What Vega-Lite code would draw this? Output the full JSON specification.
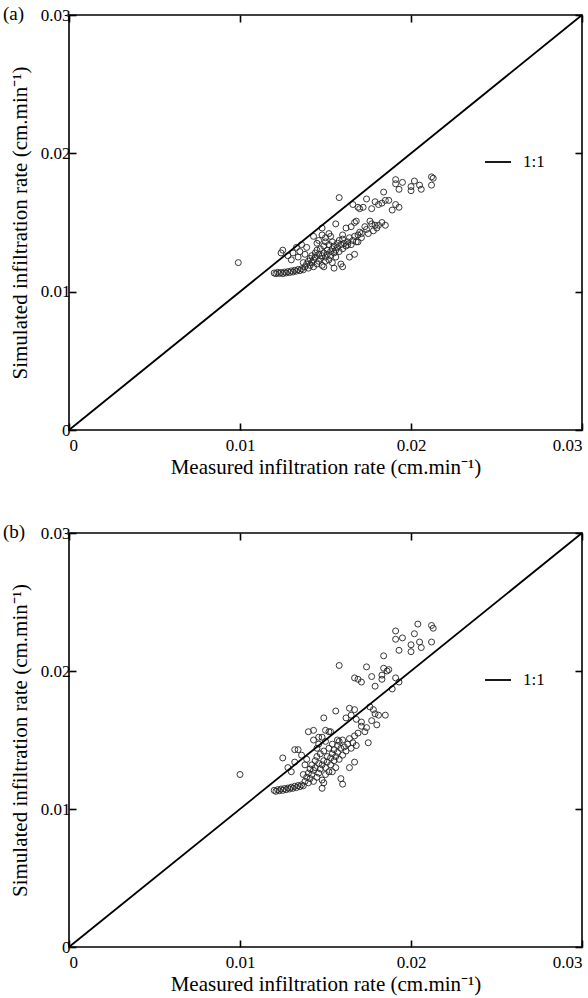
{
  "$schema": "https://vega.github.io/schema/vega-lite/v6.json",
  "background": "white",
  "padding": {"left": 2, "top": 4, "right": 6, "bottom": 5},
  "config": {
    "font": "Liberation Serif",
    "view": {"stroke": "black", "strokeWidth": 1.6},
    "axis": {"grid": false, "domain": false, "tickColor": "black", "tickSize": -7, "tickWidth": 1.6, "labelFont": "Liberation Serif", "labelFontSize": 17, "labelColor": "black", "titleFont": "Liberation Serif", "titleFontSize": 21, "titleFontWeight": "normal", "titleColor": "black"},
    "legend": {"labelFont": "Liberation Serif", "labelFontSize": 17, "labelColor": "black"}
  },
  "datasets": {
    "diag": [{"m": 0, "s": 0, "k": "1:1"}, {"m": 0.03, "s": 0.03, "k": "1:1"}],
    "a": [
      {"m":0.0099,"s":0.0121},
      {"m":0.0120,"s":0.01135},{"m":0.0121,"s":0.01130},{"m":0.0122,"s":0.01140},{"m":0.0123,"s":0.01132},{"m":0.0124,"s":0.01138},{"m":0.0125,"s":0.01130},{"m":0.0126,"s":0.01142},{"m":0.0127,"s":0.01135},{"m":0.0128,"s":0.01145},{"m":0.0129,"s":0.01138},{"m":0.0130,"s":0.01150},{"m":0.0131,"s":0.01142},{"m":0.0132,"s":0.01155},{"m":0.0133,"s":0.01148},{"m":0.0134,"s":0.01160},{"m":0.0135,"s":0.01152},{"m":0.0136,"s":0.01165},{"m":0.0137,"s":0.01158},
      {"m":0.0124,"s":0.0128},{"m":0.0125,"s":0.0130},{"m":0.0128,"s":0.0126},{"m":0.0130,"s":0.0123},{"m":0.0131,"s":0.0128},{"m":0.0133,"s":0.0132},{"m":0.0134,"s":0.0125},{"m":0.0135,"s":0.0129},{"m":0.0136,"s":0.0134},{"m":0.0137,"s":0.0121},{"m":0.0138,"s":0.0127},{"m":0.0139,"s":0.0132},
      {"m":0.0138,"s":0.0118},{"m":0.0139,"s":0.0120},{"m":0.0140,"s":0.0117},{"m":0.0140,"s":0.0122},{"m":0.0141,"s":0.0124},{"m":0.0141,"s":0.0119},{"m":0.0142,"s":0.0126},{"m":0.0142,"s":0.0121},{"m":0.0143,"s":0.0118},{"m":0.0143,"s":0.0123},{"m":0.0144,"s":0.0128},{"m":0.0144,"s":0.0125},{"m":0.0145,"s":0.0120},{"m":0.0145,"s":0.0130},{"m":0.0146,"s":0.0122},{"m":0.0146,"s":0.0127},{"m":0.0147,"s":0.0124},{"m":0.0147,"s":0.0131},{"m":0.0148,"s":0.0126},{"m":0.0148,"s":0.0119},{"m":0.0149,"s":0.0128},{"m":0.0149,"s":0.0133},{"m":0.0150,"s":0.0125},{"m":0.0150,"s":0.0122},{"m":0.0151,"s":0.0130},{"m":0.0151,"s":0.0127},{"m":0.0152,"s":0.0134},{"m":0.0152,"s":0.0123},{"m":0.0153,"s":0.0129},{"m":0.0153,"s":0.0126},{"m":0.0154,"s":0.0131},{"m":0.0154,"s":0.0136},{"m":0.0155,"s":0.0128},{"m":0.0155,"s":0.0133},{"m":0.0156,"s":0.0130},{"m":0.0156,"s":0.0125},{"m":0.0157,"s":0.0135},{"m":0.0157,"s":0.0132},{"m":0.0158,"s":0.0137},{"m":0.0158,"s":0.0129},{"m":0.0159,"s":0.0134},{"m":0.0160,"s":0.0131},{"m":0.0160,"s":0.0138},{"m":0.0161,"s":0.0135},{"m":0.0162,"s":0.0133},{"m":0.0163,"s":0.0136},{"m":0.0164,"s":0.0139},{"m":0.0165,"s":0.0134},{"m":0.0166,"s":0.0137},{"m":0.0167,"s":0.0140},{"m":0.0168,"s":0.0136},{"m":0.0169,"s":0.0141},
      {"m":0.0143,"s":0.0140},{"m":0.0148,"s":0.0141},{"m":0.0146,"s":0.0137},{"m":0.0150,"s":0.0139},{"m":0.0152,"s":0.0142},{"m":0.0145,"s":0.0135},
      {"m":0.0149,"s":0.0118},{"m":0.0154,"s":0.0121},{"m":0.0159,"s":0.0120},{"m":0.0164,"s":0.0125},{"m":0.0167,"s":0.0127},{"m":0.0160,"s":0.0118},{"m":0.0155,"s":0.0117},
      {"m":0.0153,"s":0.0140},{"m":0.0150,"s":0.0136},{"m":0.0160,"s":0.0141},{"m":0.0163,"s":0.0134},{"m":0.0170,"s":0.0143},{"m":0.0171,"s":0.0139},{"m":0.0169,"s":0.0136},{"m":0.0171,"s":0.0142},{"m":0.0174,"s":0.0145},{"m":0.0175,"s":0.0142},{"m":0.0177,"s":0.0149},{"m":0.0178,"s":0.0144},{"m":0.0179,"s":0.0148},{"m":0.0181,"s":0.0148},{"m":0.0185,"s":0.0148},{"m":0.0176,"s":0.0151},{"m":0.0165,"s":0.0147},{"m":0.0162,"s":0.0146},{"m":0.0168,"s":0.0151},{"m":0.0167,"s":0.0150},{"m":0.0173,"s":0.0147},{"m":0.0180,"s":0.0146},{"m":0.0183,"s":0.0150},
      {"m":0.0148,"s":0.0146},{"m":0.0156,"s":0.0149},
      {"m":0.0158,"s":0.0168},{"m":0.0166,"s":0.0163},{"m":0.0169,"s":0.0161},{"m":0.0170,"s":0.0160},{"m":0.0172,"s":0.0161},{"m":0.0174,"s":0.0167},{"m":0.0177,"s":0.0160},{"m":0.0179,"s":0.0165},{"m":0.0181,"s":0.0163},{"m":0.0183,"s":0.0164},{"m":0.0185,"s":0.0166},{"m":0.0187,"s":0.0166},{"m":0.0189,"s":0.0159},{"m":0.0191,"s":0.0163},{"m":0.0193,"s":0.0161},{"m":0.0191,"s":0.0181},{"m":0.0191,"s":0.0178},{"m":0.0195,"s":0.0179},{"m":0.0200,"s":0.0176},{"m":0.0200,"s":0.0173},{"m":0.0202,"s":0.0180},{"m":0.0205,"s":0.0177},{"m":0.0206,"s":0.0174},{"m":0.0212,"s":0.0183},{"m":0.0213,"s":0.0182},{"m":0.0212,"s":0.0177},{"m":0.0193,"s":0.0174},{"m":0.0184,"s":0.0172}
    ],
    "b": [
      {"m":0.0100,"s":0.0125},
      {"m":0.0120,"s":0.01135},{"m":0.0121,"s":0.01128},{"m":0.0122,"s":0.01140},{"m":0.0123,"s":0.01132},{"m":0.0124,"s":0.01145},{"m":0.0125,"s":0.01135},{"m":0.0126,"s":0.01148},{"m":0.0127,"s":0.01140},{"m":0.0128,"s":0.01152},{"m":0.0129,"s":0.01145},{"m":0.0130,"s":0.01158},{"m":0.0131,"s":0.01150},{"m":0.0132,"s":0.01165},{"m":0.0133,"s":0.01155},{"m":0.0134,"s":0.01170},{"m":0.0135,"s":0.01162},{"m":0.0136,"s":0.01175},{"m":0.0137,"s":0.01168},
      {"m":0.0125,"s":0.0137},{"m":0.0128,"s":0.0130},{"m":0.0130,"s":0.0127},{"m":0.0132,"s":0.0134},{"m":0.0132,"s":0.0143},{"m":0.0134,"s":0.0143},{"m":0.0136,"s":0.0139},{"m":0.0137,"s":0.0125},{"m":0.0138,"s":0.0132},{"m":0.0139,"s":0.0136},
      {"m":0.0138,"s":0.0120},{"m":0.0139,"s":0.0123},{"m":0.0140,"s":0.0119},{"m":0.0140,"s":0.0126},{"m":0.0141,"s":0.0129},{"m":0.0141,"s":0.0122},{"m":0.0142,"s":0.0132},{"m":0.0142,"s":0.0125},{"m":0.0143,"s":0.0120},{"m":0.0143,"s":0.0128},{"m":0.0144,"s":0.0135},{"m":0.0144,"s":0.0130},{"m":0.0145,"s":0.0123},{"m":0.0145,"s":0.0138},{"m":0.0146,"s":0.0126},{"m":0.0146,"s":0.0133},{"m":0.0147,"s":0.0129},{"m":0.0147,"s":0.0140},{"m":0.0148,"s":0.0132},{"m":0.0148,"s":0.0121},{"m":0.0149,"s":0.0135},{"m":0.0149,"s":0.0142},{"m":0.0150,"s":0.0130},{"m":0.0150,"s":0.0125},{"m":0.0151,"s":0.0138},{"m":0.0151,"s":0.0134},{"m":0.0152,"s":0.0144},{"m":0.0152,"s":0.0127},{"m":0.0153,"s":0.0137},{"m":0.0153,"s":0.0132},{"m":0.0154,"s":0.0140},{"m":0.0154,"s":0.0147},{"m":0.0155,"s":0.0135},{"m":0.0155,"s":0.0143},{"m":0.0156,"s":0.0138},{"m":0.0156,"s":0.0130},{"m":0.0157,"s":0.0146},{"m":0.0157,"s":0.0141},{"m":0.0158,"s":0.0149},{"m":0.0158,"s":0.0136},{"m":0.0159,"s":0.0144},{"m":0.0160,"s":0.0139},{"m":0.0160,"s":0.0150},{"m":0.0161,"s":0.0145},{"m":0.0162,"s":0.0142},{"m":0.0163,"s":0.0147},{"m":0.0164,"s":0.0151},{"m":0.0165,"s":0.0144},{"m":0.0166,"s":0.0148},{"m":0.0167,"s":0.0153},{"m":0.0168,"s":0.0146},{"m":0.0169,"s":0.0155},
      {"m":0.0143,"s":0.0150},{"m":0.0148,"s":0.0152},{"m":0.0146,"s":0.0147},{"m":0.0150,"s":0.0149},{"m":0.0152,"s":0.0156},{"m":0.0145,"s":0.0144},
      {"m":0.0149,"s":0.0119},{"m":0.0148,"s":0.0115},{"m":0.0154,"s":0.0127},{"m":0.0159,"s":0.0122},{"m":0.0164,"s":0.0130},{"m":0.0167,"s":0.0134},{"m":0.0160,"s":0.0118},
      {"m":0.0140,"s":0.0156},{"m":0.0143,"s":0.0157},{"m":0.0146,"s":0.0152},{"m":0.0150,"s":0.0157},{"m":0.0153,"s":0.0156},{"m":0.0157,"s":0.0150},{"m":0.0156,"s":0.0171},{"m":0.0149,"s":0.0166},{"m":0.0164,"s":0.0173},{"m":0.0167,"s":0.0172},{"m":0.0165,"s":0.0168},{"m":0.0162,"s":0.0166},{"m":0.0168,"s":0.0165},{"m":0.0171,"s":0.0163},{"m":0.0174,"s":0.0159},{"m":0.0176,"s":0.0174},{"m":0.0179,"s":0.0169},{"m":0.0181,"s":0.0168},{"m":0.0185,"s":0.0168},{"m":0.0177,"s":0.0164},{"m":0.0180,"s":0.0161},{"m":0.0175,"s":0.0148},{"m":0.0173,"s":0.0156},{"m":0.0171,"s":0.0160},{"m":0.0178,"s":0.0172},
      {"m":0.0158,"s":0.0204},{"m":0.0167,"s":0.0195},{"m":0.0169,"s":0.0194},{"m":0.0171,"s":0.0192},{"m":0.0174,"s":0.0203},{"m":0.0177,"s":0.0196},{"m":0.0179,"s":0.0189},{"m":0.0184,"s":0.0202},{"m":0.0187,"s":0.0201},{"m":0.0186,"s":0.0200},{"m":0.0183,"s":0.0197},{"m":0.0183,"s":0.0194},{"m":0.0191,"s":0.0195},{"m":0.0193,"s":0.0192},{"m":0.0189,"s":0.0187},{"m":0.0191,"s":0.0229},{"m":0.0195,"s":0.0224},{"m":0.0191,"s":0.0223},{"m":0.0202,"s":0.0227},{"m":0.0204,"s":0.0234},{"m":0.0205,"s":0.0221},{"m":0.0206,"s":0.0217},{"m":0.0200,"s":0.0219},{"m":0.0200,"s":0.0214},{"m":0.0193,"s":0.0215},{"m":0.0212,"s":0.0233},{"m":0.0213,"s":0.0231},{"m":0.0212,"s":0.0221},{"m":0.0184,"s":0.0211}
    ]
  },
  "spacing": 44,
  "resolve": {"scale": {"color": "independent"}, "legend": {"color": "independent"}},
  "vconcat": [
    {
      "width": 513, "height": 415,
      "title": {"text": "(a)", "anchor": "start", "frame": "group", "orient": "top", "dx": -66, "dy": 18, "offset": 0, "fontSize": 19, "fontWeight": "normal", "font": "Liberation Serif", "color": "black"},
      "resolve": {"axis": {"x": "independent", "y": "independent"}},
      "layer": [
        {
          "data": {"name": "a"},
          "mark": {"type": "point", "shape": "circle", "filled": false, "stroke": "#222", "strokeWidth": 1, "size": 36, "opacity": 0.9},
          "encoding": {
            "x": {"field": "m", "type": "quantitative", "scale": {"domain": [0, 0.03], "nice": false}, "axis": {"values": [0, 0.01, 0.02, 0.03], "labelExpr": "datum.value == 0 ? '0' : format(datum.value, '.2f')", "title": "Measured infiltration rate (cm.min⁻¹)", "labelPadding": 14, "titlePadding": 3}},
            "y": {"field": "s", "type": "quantitative", "scale": {"domain": [0, 0.03], "nice": false}, "axis": {"values": [0, 0.01, 0.02, 0.03], "labelExpr": "datum.value == 0 ? '0' : format(datum.value, '.2f')", "title": "Simulated infiltration rate (cm.min⁻¹)", "labelPadding": 6, "titlePadding": 10}}
          }
        },
        {
          "data": {"name": "diag"},
          "mark": {"type": "line", "strokeWidth": 1.8},
          "encoding": {
            "x": {"field": "m", "type": "quantitative", "axis": {"orient": "top", "values": [0, 0.01, 0.02, 0.03], "labels": false, "title": null}},
            "y": {"field": "s", "type": "quantitative", "axis": {"orient": "right", "values": [0, 0.01, 0.02, 0.03], "labels": false, "title": null}},
            "color": {"field": "k", "type": "nominal", "scale": {"range": ["black"]}, "legend": {"title": null, "orient": "none", "legendX": 415, "legendY": 133, "symbolType": "stroke", "symbolSize": 676, "symbolStrokeWidth": 1.8, "padding": 0, "labelOffset": 11}}
          }
        }
      ]
    },
    {
      "width": 513, "height": 414,
      "title": {"text": "(b)", "anchor": "start", "frame": "group", "orient": "top", "dx": -66, "dy": 18, "offset": 0, "fontSize": 19, "fontWeight": "normal", "font": "Liberation Serif", "color": "black"},
      "resolve": {"axis": {"x": "independent", "y": "independent"}},
      "layer": [
        {
          "data": {"name": "b"},
          "mark": {"type": "point", "shape": "circle", "filled": false, "stroke": "#222", "strokeWidth": 1, "size": 36, "opacity": 0.9},
          "encoding": {
            "x": {"field": "m", "type": "quantitative", "scale": {"domain": [0, 0.03], "nice": false}, "axis": {"values": [0, 0.01, 0.02, 0.03], "labelExpr": "datum.value == 0 ? '0' : format(datum.value, '.2f')", "title": "Measured infiltration rate (cm.min⁻¹)", "labelPadding": 14, "titlePadding": 3}},
            "y": {"field": "s", "type": "quantitative", "scale": {"domain": [0, 0.03], "nice": false}, "axis": {"values": [0, 0.01, 0.02, 0.03], "labelExpr": "datum.value == 0 ? '0' : format(datum.value, '.2f')", "title": "Simulated infiltration rate (cm.min⁻¹)", "labelPadding": 6, "titlePadding": 10}}
          }
        },
        {
          "data": {"name": "diag"},
          "mark": {"type": "line", "strokeWidth": 1.8},
          "encoding": {
            "x": {"field": "m", "type": "quantitative", "axis": {"orient": "top", "values": [0, 0.01, 0.02, 0.03], "labels": false, "title": null}},
            "y": {"field": "s", "type": "quantitative", "axis": {"orient": "right", "values": [0, 0.01, 0.02, 0.03], "labels": false, "title": null}},
            "color": {"field": "k", "type": "nominal", "scale": {"range": ["black"]}, "legend": {"title": null, "orient": "none", "legendX": 415, "legendY": 133, "symbolType": "stroke", "symbolSize": 676, "symbolStrokeWidth": 1.8, "padding": 0, "labelOffset": 11}}
          }
        }
      ]
    }
  ]
}
